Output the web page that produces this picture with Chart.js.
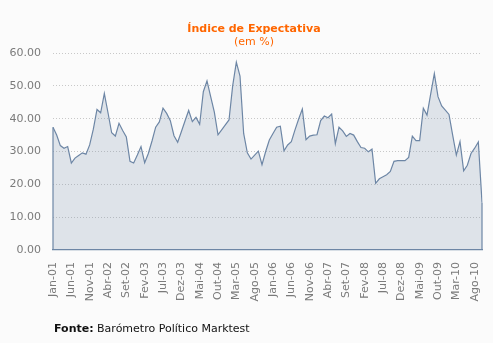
<!DOCTYPE html>
<html>
<head>
<meta charset="utf-8">
<script src="https://cdn.jsdelivr.net/npm/chart.js@4"></script>
<style>
  html, body { margin: 0; padding: 0; background: #fbfbfb; }
  #wrap { position: relative; width: 493px; height: 343px; overflow: hidden; }
  canvas { position: absolute; left: 0; top: 0; }
  .t { position: absolute; left: 0; width: 508px; text-align: center; font-family: "DejaVu Sans", Verdana, sans-serif; color: #ff6600; font-size: 11px; line-height: 13px; white-space: nowrap; }
  #title { top: 22px; font-weight: bold; }
  #subtitle { top: 35px; }
  #footer { position: absolute; left: 54px; top: 322px; font-family: "DejaVu Sans", Verdana, sans-serif; font-size: 11px; line-height: 13px; color: #111; white-space: nowrap; }
</style>
</head>
<body>
<div id="wrap">
  <canvas id="c" width="493" height="343"></canvas>
  <div class="t" id="title">Índice de Expectativa</div>
  <div class="t" id="subtitle">(em %)</div>
  <div id="footer"><b>Fonte:</b> Barómetro Político Marktest</div>
</div>
<script>
// Month names (Portuguese) and years used to build the monthly categories Jan-01 .. Out-10
const monthNames = ["Jan","Fev","Mar","Abr","Mai","Jun","Jul","Ago","Set","Out","Nov","Dez"];
const years = ["01","02","03","04","05","06","07","08","09","10"];
const lastMonthIndex2010 = 9; // Out-10

// Índice de Expectativa (em %), monthly values
const expectativa = [
  37.4, 35.0, 31.8, 31.0, 31.5, 26.5, 28.0, 28.8, 29.6, 29.2, 32.0, 36.8,   // 2001
  42.8, 41.8, 47.7, 41.8, 35.7, 34.7, 38.6, 36.4, 34.4, 27.0, 26.5, 28.9,   // 2002
  31.5, 26.6, 29.4, 33.2, 37.4, 39.0, 43.2, 41.6, 39.4, 34.8, 32.8, 36.0,   // 2003
  39.3, 42.5, 39.1, 40.4, 38.3, 48.2, 51.5, 46.7, 42.0, 35.1, 36.6, 38.1,   // 2004
  39.6, 50.0, 57.2, 53.0, 35.5, 29.6, 27.7, 28.9, 30.1, 26.0, 30.0, 33.5,   // 2005
  35.5, 37.4, 37.7, 30.2, 32.0, 33.0, 36.6, 39.9, 42.9, 33.6, 34.7, 35.0,   // 2006
  35.1, 39.4, 40.8, 40.3, 41.4, 32.4, 37.4, 36.3, 34.6, 35.5, 35.0, 33.0,   // 2007
  31.2, 31.0, 29.9, 30.7, 20.3, 21.7, 22.3, 22.9, 23.9, 27.0, 27.2, 27.2,   // 2008
  27.2, 28.2, 34.7, 33.3, 33.3, 43.2, 41.1, 47.5, 53.7, 46.7, 43.9, 42.6,   // 2009
  41.3, 35.0, 28.9, 33.0, 24.1, 25.8, 29.4, 31.0, 32.9, 14.5                // 2010
];

const yTicks = [0, 10, 20, 30, 40, 50, 60];
const labelEvery = 5;

const categories = [];
years.forEach((y, yi) => {
  const nMonths = (yi === years.length - 1) ? lastMonthIndex2010 + 1 : 12;
  for (let m = 0; m < nMonths; m++) categories.push(monthNames[m] + "-" + y);
});

const lineColor = "#6d86a5";
const fontFamily = "'DejaVu Sans', Verdana, sans-serif";

const edgePlugin = {
  id: "areaEdges",
  afterDatasetsDraw(chart) {
    const meta = chart.getDatasetMeta(0);
    const pts = meta.data;
    if (!pts.length) return;
    const bottom = chart.scales.y.getPixelForValue(0);
    const ctx = chart.ctx;
    ctx.save();
    ctx.strokeStyle = lineColor;
    ctx.lineWidth = 1.2;
    ctx.beginPath();
    ctx.moveTo(pts[0].x, pts[0].y);
    ctx.lineTo(pts[0].x, bottom);
    ctx.moveTo(pts[pts.length - 1].x, pts[pts.length - 1].y);
    ctx.lineTo(pts[pts.length - 1].x, bottom);
    ctx.stroke();
    ctx.restore();
  }
};

new Chart(document.getElementById("c"), {
  type: "line",
  data: {
    labels: categories,
    datasets: [{
      label: "Índice de Expectativa",
      data: expectativa,
      borderColor: lineColor,
      borderWidth: 1.2,
      backgroundColor: "rgba(110,135,165,0.2)",
      fill: "origin",
      pointRadius: 0,
      tension: 0
    }]
  },
  options: {
    responsive: false,
    animation: false,
    devicePixelRatio: 1,
    layout: { padding: { top: 53, right: 11, bottom: 0, left: 0 } },
    plugins: {
      legend: { display: false },
      title: { display: false },
      tooltip: { enabled: false }
    },
    scales: {
      x: {
        type: "category",
        offset: false,
        afterFit(scale) { scale.height = 93; scale.paddingLeft = 0; scale.paddingRight = 0; },
        grid: { display: false, drawTicks: false },
        border: { display: true, color: lineColor, width: 1.2 },
        ticks: {
          autoSkip: false,
          minRotation: 90,
          maxRotation: 90,
          padding: 12,
          color: "#7a7a7a",
          font: { family: fontFamily, size: 11 },
          callback(value, index) {
            return index % labelEvery === 0 ? categories[index] : null;
          }
        }
      },
      y: {
        min: 0,
        max: 60,
        afterFit(scale) { scale.width = 53; },
        afterBuildTicks(scale) { scale.ticks = yTicks.map(v => ({ value: v })); },
        grid: {
          drawTicks: false,
          color: (ctx) => ctx.tick && ctx.tick.value === 0 ? "rgba(0,0,0,0)" : "#c8c8c8",
          lineWidth: 1
        },
        border: { display: false, dash: [1, 2] },
        ticks: {
          padding: 12,
          color: "#7a7a7a",
          font: { family: fontFamily, size: 11 },
          callback(value) { return Number(value).toFixed(2); }
        }
      }
    }
  },
  plugins: [edgePlugin]
});
</script>
</body>
</html>
